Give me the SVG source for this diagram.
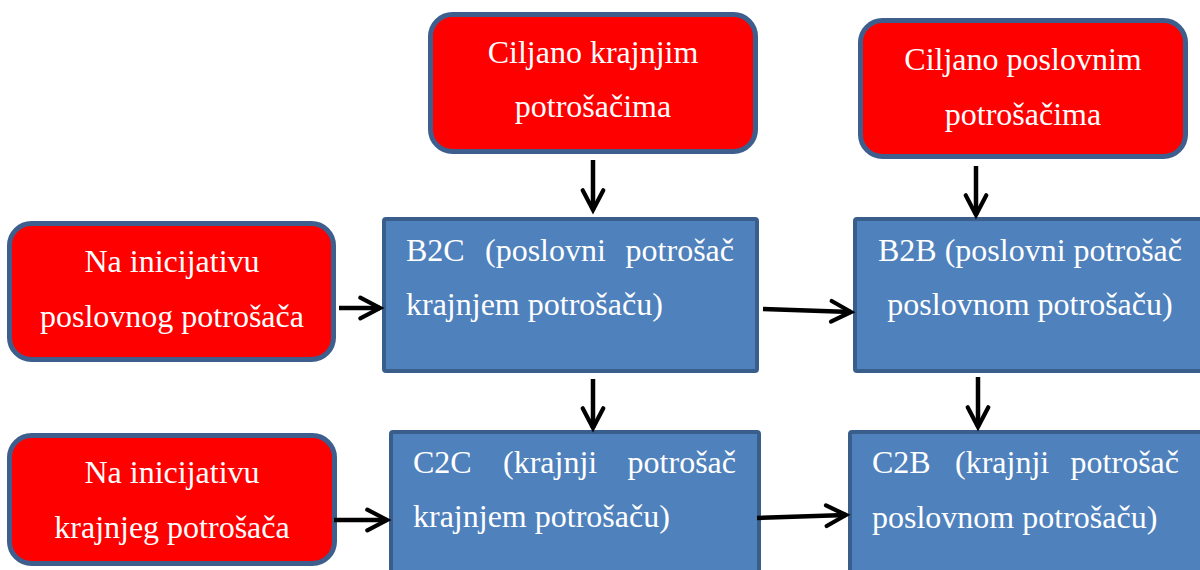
<svg xmlns="http://www.w3.org/2000/svg" width="1200" height="570" viewBox="0 0 1200 570">
<defs>
<marker id="arr" markerUnits="userSpaceOnUse" markerWidth="30" markerHeight="30" viewBox="-26 -15 32 30" refX="0" refY="0" orient="auto" overflow="visible">
<path d="M-21,-11 L0,0 L-21,11" fill="none" stroke="#000" stroke-width="4.5" stroke-linecap="round" stroke-linejoin="miter"/>
</marker>
<style>
.red{fill:#FF0000;stroke:#3E5F8D;stroke-width:5}
.blue{fill:#4F81BD;stroke:#3A5E8C;stroke-width:4}
.t{font-family:"Liberation Serif","Times New Roman",serif;font-size:32px;fill:#fff}
.c{text-anchor:middle}
.conn{stroke:#000;stroke-width:4.5;fill:none;marker-end:url(#arr)}
</style>
</defs>
<rect width="1200" height="570" fill="#fff"/>
<g id="ciljano-krajnjim">
<rect class="red" x="430.5" y="14.5" width="325" height="137" rx="22"/>
<text class="t c" x="593" y="63">Ciljano krajnjim</text>
<text class="t c" x="593" y="117">potrošačima</text>
</g>
<g id="ciljano-poslovnim">
<rect class="red" x="860.5" y="20.5" width="325" height="136" rx="22"/>
<text class="t c" x="1023" y="70">Ciljano poslovnim</text>
<text class="t c" x="1023" y="125">potrošačima</text>
</g>
<g id="inicijativa-poslovnog">
<rect class="red" x="9.5" y="223.5" width="324" height="136" rx="22"/>
<text class="t c" x="172" y="272">Na inicijativu</text>
<text class="t c" x="172" y="327">poslovnog potrošača</text>
</g>
<g id="inicijativa-krajnjeg">
<rect class="red" x="9.5" y="435.5" width="325" height="128" rx="22"/>
<text class="t c" x="172" y="483">Na inicijativu</text>
<text class="t c" x="172" y="538">krajnjeg potrošača</text>
</g>
<g id="b2c">
<rect class="blue" x="384" y="219" width="373" height="152" rx="2"/>
<text class="t" y="261"><tspan x="406">B2C</tspan><tspan x="485">(poslovni</tspan><tspan x="734" text-anchor="end">potrošač</tspan></text>
<text class="t" x="406" y="315">krajnjem potrošaču)</text>
</g>
<g id="b2b">
<rect class="blue" x="855" y="219" width="350" height="152" rx="2"/>
<text class="t c" x="1030" y="261">B2B (poslovni potrošač</text>
<text class="t c" x="1030" y="315">poslovnom potrošaču)</text>
</g>
<g id="c2c">
<rect class="blue" x="391" y="432" width="368" height="170" rx="2"/>
<text class="t" y="473"><tspan x="413">C2C</tspan><tspan x="503">(krajnji</tspan><tspan x="736" text-anchor="end">potrošač</tspan></text>
<text class="t" x="413" y="527">krajnjem potrošaču)</text>
</g>
<g id="c2b">
<rect class="blue" x="850" y="432" width="355" height="170" rx="2"/>
<text class="t" y="473"><tspan x="872">C2B</tspan><tspan x="955">(krajnji</tspan><tspan x="1179" text-anchor="end">potrošač</tspan></text>
<text class="t" x="872" y="528">poslovnom potrošaču)</text>
</g>
<g id="connectors">
<line class="conn" x1="593" y1="160" x2="593" y2="210"/>
<line class="conn" x1="976" y1="166" x2="976" y2="215"/>
<line class="conn" x1="339" y1="308" x2="380" y2="308"/>
<line class="conn" x1="763" y1="309" x2="851" y2="312"/>
<line class="conn" x1="593" y1="379" x2="593" y2="428"/>
<line class="conn" x1="978" y1="377" x2="978" y2="427"/>
<line class="conn" x1="334" y1="520" x2="387" y2="520"/>
<line class="conn" x1="757" y1="518" x2="846" y2="515"/>
</g>
</svg>
